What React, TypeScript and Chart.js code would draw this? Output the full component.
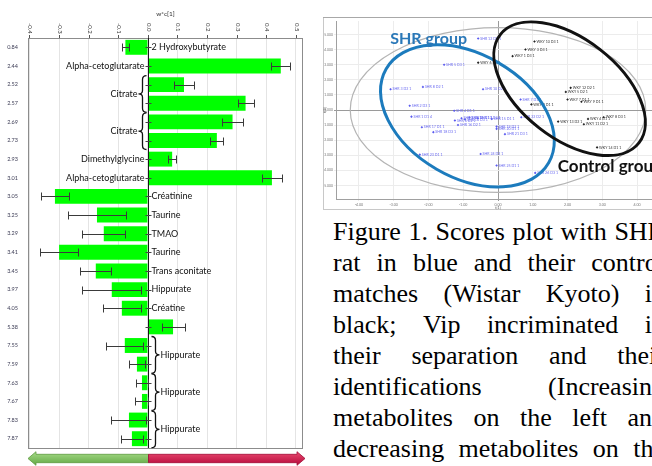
import React, { useEffect, useRef } from 'react';
import { Chart, registerables } from 'chart.js';

Chart.register(...registerables);

// ---------------- Left panel: loadings (w*c[1]) bar chart ----------------
const shifts = ['0.84', '2.44', '2.52', '2.57', '2.69', '2.73', '2.93', '3.01', '3.05', '3.25', '3.29', '3.41', '3.45', '3.97', '4.05', '5.38', '7.55', '7.59', '7.63', '7.67', '7.83', '7.87'];
const weights = [-0.076, 0.449, 0.122, 0.33, 0.286, 0.233, 0.082, 0.419, -0.314, -0.172, -0.149, -0.3, -0.176, -0.122, -0.088, 0.085, -0.078, -0.037, -0.02, -0.02, -0.064, -0.054];
const errors = [0.013, 0.032, 0.034, 0.027, 0.036, 0.022, 0.014, 0.033, 0.047, 0.098, 0.072, 0.064, 0.053, 0.1, 0.064, 0.039, 0.062, 0.027, 0.019, 0.022, 0.059, 0.038];
const metabolites = ['2 Hydroxybutyrate', 'Alpha-cetoglutarate', '', '', '', '', 'Dimethylglycine', 'Alpha-cetoglutarate', 'Créatinine', 'Taurine', 'TMAO', 'Taurine', 'Trans aconitate', 'Hippurate', 'Créatine', '', '', '', '', '', '', ''];
const groupNames = ['Citrate', 'Citrate', 'Hippurate', 'Hippurate', 'Hippurate'];
const groupFirstRow = [2, 4, 16, 18, 20];
const xTicks = [-0.4, -0.3, -0.2, -0.1, 0, 0.1, 0.2, 0.3, 0.4, 0.5];
const xTickLabels = ['-0.4', '-0.3', '-0.2', '-0.1', '0.0', '0.1', '0.2', '0.3', '0.4', '0.5'];
const xAxisTitle = 'w*c[1]';

// ---------------- Right panel: scores plot ----------------
const shrX = [-0.57, -1.55, -3.09, -2.16, -0.43, -2.54, 0.65, -1.26, -2.49, -1.24, -1.05, -0.82, -0.58, -0.95, -0.18, -1.15, -2.19, -1.86, -0.04, -0.04, 0.2, 0.67, -2.25, -0.5, -0.04, 1.07];
const shrY = [4.74, 3.0, 1.38, 1.53, 1.38, 0.28, 0.7, -0.05, -0.44, -0.7, -0.55, -0.5, -0.55, -0.62, -0.59, -0.99, -1.14, -1.47, -1.1, -1.25, -1.6, -0.48, -2.96, -2.92, -3.68, -4.17];
const shrNames = ['SHR 12 D3 1', 'SHR 5 D3 1', 'SHR 3 D2 1', 'SHR 8 D2 1', 'SHR 10 D2 1', 'SHR 2 D3 1', 'SHR 7 D1 1', 'SHR 4 D1 1', 'SHR 1 D1 4', 'SHR 6 D2 1', 'SHR 9 D1 1', 'SHR 11 D1 1', 'SHR 13 D2 1', 'SHR 14 D3 1', 'SHR 15 D1 1', 'SHR 16 D2 1', 'SHR 17 D1 1', 'SHR 18 D3 1', 'SHR 19 D2 1', 'SHR 20 D1 1', 'SHR 21 D3 1', 'SHR 22 D2 1', 'SHR 23 D1 1', 'SHR 24 D2 1', 'SHR 25 D1 1', 'SHR 26 D3 1'];
const ctlX = [1.05, 0.79, 0.42, -0.57, 2.09, 1.95, 2.0, 2.4, 0.96, 1.73, 2.59, 3.04, 2.47, 2.85];
const ctlY = [4.54, 4.01, 3.57, 3.14, 1.47, 1.2, 0.7, 0.55, 0.37, -0.77, -0.59, -0.48, -0.94, -2.48];
const ctlNames = ['WKY 10 D3 1', 'WKY 3 D3 1', 'WKY 1 D3 1', 'WKY 6 D2 1', 'WKY 12 D2 1', 'WKY 5 D2 1', 'WKY 7 D1 1', 'WKY 9 D1 1', 'WKY 2 D1 1', 'WKY 13 D2 1', 'WKY 4 D1 1', 'WKY 8 D3 1', 'WKY 11 D2 1', 'WKY 14 D1 1'];
const scoreXTicks = [-4, -3, -2, -1, 0, 1, 2, 3, 4];
const scoreXTickLabels = ['-4.00', '-3.00', '-2.00', '-1.00', '0.00', '1.00', '2.00', '3.00', '4.00'];
const scoreYTicks = [-5, -4, -3, -2, -1, 0, 1, 2, 3, 4, 5];
const scoreYTickLabels = ['-5.000', '-4.000', '-3.000', '-2.000', '-1.000', '0.000', '1.000', '2.000', '3.000', '4.000', '5.000'];
// ellipses: centre (data), semi-axes (a in x-units, b in y-units), rotation in degrees
const ellipseNames = ['all', 'SHR', 'Control'];
const ellipseCx = [0, -0.88, 2.06];
const ellipseCy = [0, -0.39, 1.41];
const ellipseA = [4.25, 2.7, 2.53];
const ellipseB = [5.46, 4.08, 3.29];
const ellipseRot = [0, 30, 38];
const groupTitles = ['SHR group', 'Control group'];
const groupTitleX = [-3.1, 1.72];
const groupTitleY = [4.72, -3.75];

const captionLines = [
  'Figure 1. Scores plot with SHR',
  'rat in blue and their control',
  'matches (Wistar Kyoto) in',
  'black; Vip incriminated in',
  'their separation and their',
  'identifications (Increasing',
  'metabolites on the left and',
  'decreasing metabolites on the',
];

const SANS = 'Lato, "Open Sans", sans-serif';

function drawBrace(ctx: CanvasRenderingContext2D, xArm: number, xTip: number, yTop: number, yBot: number) {
  const ym = (yTop + yBot) / 2;
  const xm = (xArm + xTip) / 2;
  ctx.beginPath();
  ctx.moveTo(xArm, yTop);
  ctx.quadraticCurveTo(xm, yTop, xm, yTop + 4);
  ctx.lineTo(xm, ym - 3.5);
  ctx.quadraticCurveTo(xm, ym, xTip, ym);
  ctx.quadraticCurveTo(xm, ym, xm, ym + 3.5);
  ctx.lineTo(xm, yBot - 4);
  ctx.quadraticCurveTo(xm, yBot, xArm, yBot);
  ctx.stroke();
}

function drawArrow(ctx: CanvasRenderingContext2D, xTail: number, xTip: number, yc: number, top: string, bottom: string, edge: string) {
  const dir = xTip > xTail ? 1 : -1;
  const bodyH = 4.2;
  const headH = 6.8;
  const headL = 8;
  const xBase = xTip - dir * headL;
  const g = ctx.createLinearGradient(0, yc - headH, 0, yc + headH);
  g.addColorStop(0, top);
  g.addColorStop(1, bottom);
  ctx.beginPath();
  ctx.moveTo(xTail, yc - bodyH);
  ctx.lineTo(xBase, yc - bodyH);
  ctx.lineTo(xBase, yc - headH);
  ctx.lineTo(xTip, yc);
  ctx.lineTo(xBase, yc + headH);
  ctx.lineTo(xBase, yc + bodyH);
  ctx.lineTo(xTail, yc + bodyH);
  ctx.closePath();
  ctx.fillStyle = g;
  ctx.fill();
  ctx.strokeStyle = edge;
  ctx.lineWidth = 0.8;
  ctx.stroke();
}

const leftDecor = {
  id: 'leftDecor',
  afterDatasetsDraw(chart: any) {
    const { ctx, chartArea: a, scales } = chart;
    const xs = scales.x;
    const ys = scales.y;
    const x0 = Math.round(xs.getPixelForValue(0)) + 0.5;
    ctx.save();

    // plot frame
    ctx.strokeStyle = '#8c8c8c';
    ctx.lineWidth = 1;
    ctx.strokeRect(Math.round(a.left) + 0.5, Math.round(a.top) + 0.5, Math.round(a.width) - 1, Math.round(a.height));

    // zero axis
    ctx.strokeStyle = '#1a1a1a';
    ctx.beginPath();
    ctx.moveTo(x0, a.top);
    ctx.lineTo(x0, a.bottom);
    ctx.stroke();

    // category ticks on the zero axis
    ctx.strokeStyle = '#444';
    shifts.forEach((_, i) => {
      const py = Math.round(ys.getPixelForValue(i)) + 0.5;
      ctx.beginPath();
      ctx.moveTo(x0 - 3, py);
      ctx.lineTo(x0 + 3, py);
      ctx.stroke();
    });

    // error bars
    ctx.strokeStyle = '#3a3a3a';
    ctx.lineWidth = 1;
    weights.forEach((v, i) => {
      const py = Math.round(ys.getPixelForValue(i)) + 0.5;
      const xa = Math.round(xs.getPixelForValue(v - errors[i])) + 0.5;
      const xb = Math.round(xs.getPixelForValue(v + errors[i])) + 0.5;
      ctx.beginPath();
      ctx.moveTo(xa, py);
      ctx.lineTo(xb, py);
      ctx.moveTo(xa, py - 4);
      ctx.lineTo(xa, py + 4);
      ctx.moveTo(xb, py - 4);
      ctx.lineTo(xb, py + 4);
      ctx.stroke();
    });

    // metabolite labels
    ctx.fillStyle = '#111';
    ctx.font = `9px ${SANS}`;
    ctx.textBaseline = 'middle';
    metabolites.forEach((name, i) => {
      if (!name) return;
      const py = ys.getPixelForValue(i);
      if (weights[i] >= 0) {
        ctx.textAlign = 'right';
        ctx.fillText(name, x0 - 4, py);
      } else {
        ctx.textAlign = 'left';
        ctx.fillText(name, x0 + 3, py);
      }
    });

    // grouped labels with braces
    ctx.strokeStyle = '#111';
    ctx.lineWidth = 1.3;
    groupNames.forEach((name, g) => {
      const r = groupFirstRow[g];
      const yTop = ys.getPixelForValue(r) - 9;
      const yBot = ys.getPixelForValue(r + 1) + 9;
      const ym = (yTop + yBot) / 2;
      if (weights[r] >= 0) {
        drawBrace(ctx, x0 - 2, x0 - 10, yTop, yBot);
        ctx.textAlign = 'right';
        ctx.fillText(name, x0 - 11, ym);
      } else {
        drawBrace(ctx, x0 + 3, x0 + 11, yTop, yBot);
        ctx.textAlign = 'left';
        ctx.fillText(name, x0 + 12, ym);
      }
    });

    // top axis: title, rotated tick labels, tick marks
    ctx.fillStyle = '#333';
    ctx.font = `6.5px ${SANS}`;
    ctx.textAlign = 'center';
    ctx.fillText(xAxisTitle, (a.left + a.right) / 2, 14);
    ctx.font = `6px ${SANS}`;
    ctx.strokeStyle = '#555';
    ctx.lineWidth = 1;
    xTicks.forEach((v, i) => {
      const px = Math.round(xs.getPixelForValue(v)) + 0.5;
      ctx.save();
      ctx.translate(px, 23);
      ctx.rotate(Math.PI / 2);
      ctx.textAlign = 'left';
      ctx.textBaseline = 'middle';
      ctx.fillText(xTickLabels[i], 0, 0);
      ctx.restore();
      ctx.beginPath();
      ctx.moveTo(px, a.top - 3);
      ctx.lineTo(px, a.top);
      ctx.stroke();
    });

    // direction arrows under the plot
    const yArrow = a.bottom + 10.5;
    drawArrow(ctx, x0, a.left, yArrow, '#a6db88', '#62a844', '#5d9a40');
    drawArrow(ctx, x0, a.right + 2, yArrow, '#ea4a70', '#b5083a', '#a10a35');

    ctx.restore();
  },
};

const scoreDecor = {
  id: 'scoreDecor',
  afterDatasetsDraw(chart: any) {
    const { ctx, chartArea: a, scales, width, height } = chart;
    const xs = scales.x;
    const ys = scales.y;
    const uX = xs.getPixelForValue(1) - xs.getPixelForValue(0);
    const uY = ys.getPixelForValue(0) - ys.getPixelForValue(1);
    ctx.save();

    // panel frame
    ctx.strokeStyle = '#c8c8c8';
    ctx.lineWidth = 1;
    ctx.strokeRect(0.5, 0.5, width + 10, height - 1);
    ctx.strokeStyle = '#a8a8a8';
    ctx.beginPath();
    ctx.moveTo(0, 0.5);
    ctx.lineTo(width, 0.5);
    ctx.stroke();

    // point labels
    ctx.font = `3.6px ${SANS}`;
    ctx.textBaseline = 'middle';
    ctx.textAlign = 'left';
    ctx.fillStyle = '#6a6af0';
    shrX.forEach((v, i) => {
      ctx.fillText(shrNames[i], xs.getPixelForValue(v) + 2, ys.getPixelForValue(shrY[i]));
    });
    ctx.fillStyle = '#333';
    ctlX.forEach((v, i) => {
      ctx.fillText(ctlNames[i], xs.getPixelForValue(v) + 2, ys.getPixelForValue(ctlY[i]));
    });

    // axis titles
    ctx.fillStyle = '#555';
    ctx.font = `3.6px ${SANS}`;
    ctx.textAlign = 'center';
    ctx.fillText('t[1]', xs.getPixelForValue(0), a.bottom + 9);
    ctx.save();
    ctx.translate(2, ys.getPixelForValue(0));
    ctx.rotate(-Math.PI / 2);
    ctx.fillText('t[2]', 0, 0);
    ctx.restore();

    // ellipses
    const colours = ['#b4b4b4', '#1c7bbd', '#111'];
    const widths = [1.2, 3, 3];
    ellipseNames.forEach((_, k) => {
      ctx.beginPath();
      ctx.ellipse(
        xs.getPixelForValue(ellipseCx[k]),
        ys.getPixelForValue(ellipseCy[k]),
        ellipseA[k] * uX,
        ellipseB[k] * uY,
        (ellipseRot[k] * Math.PI) / 180,
        0,
        Math.PI * 2,
      );
      ctx.strokeStyle = colours[k];
      ctx.lineWidth = widths[k];
      ctx.stroke();
    });

    // group titles
    ctx.textAlign = 'left';
    ctx.textBaseline = 'middle';
    ctx.font = `bold 16px ${SANS}`;
    ctx.fillStyle = '#2a78b8';
    ctx.fillText(groupTitles[0], xs.getPixelForValue(groupTitleX[0]), ys.getPixelForValue(groupTitleY[0]));
    ctx.font = `bold 17px ${SANS}`;
    ctx.fillStyle = '#111';
    ctx.fillText(groupTitles[1], xs.getPixelForValue(groupTitleX[1]), ys.getPixelForValue(groupTitleY[1]));

    ctx.restore();
  },
};

export default function App() {
  const leftRef = useRef<HTMLCanvasElement>(null);
  const rightRef = useRef<HTMLCanvasElement>(null);

  useEffect(() => {
    const left = new Chart(leftRef.current as HTMLCanvasElement, {
      type: 'bar',
      data: {
        labels: shifts,
        datasets: [
          {
            data: weights,
            backgroundColor: '#00ff00',
            borderWidth: 0,
            barPercentage: 0.8,
            categoryPercentage: 1,
          },
        ],
      },
      options: {
        indexAxis: 'y',
        responsive: false,
        animation: false,
        devicePixelRatio: 1,
        layout: { padding: { left: 0, right: 17, top: 0, bottom: 18 } },
        plugins: { legend: { display: false }, tooltip: { enabled: false } },
        scales: {
          x: {
            type: 'linear',
            position: 'top',
            min: -0.405,
            max: 0.524,
            afterBuildTicks: (s: any) => {
              s.ticks = xTicks.map((v) => ({ value: v }));
            },
            afterFit: (s: any) => {
              s.height = 38;
            },
            ticks: { display: false },
            grid: { color: '#e4e4e4', drawTicks: false },
            border: { display: false },
          },
          y: {
            type: 'category',
            position: 'left',
            afterFit: (s: any) => {
              s.width = 28;
            },
            ticks: { font: { family: SANS, size: 5.5 }, color: '#3c3c55', padding: 10, autoSkip: false },
            grid: { display: false, drawTicks: false },
            border: { display: false },
          },
        },
      } as any,
      plugins: [leftDecor],
    });

    const right = new Chart(rightRef.current as HTMLCanvasElement, {
      type: 'scatter',
      data: {
        datasets: [
          {
            data: shrX.map((v, i) => ({ x: v, y: shrY[i] })),
            backgroundColor: '#5a5af0',
            borderWidth: 0,
            pointStyle: 'rectRot',
            pointRadius: 1.3,
          },
          {
            data: ctlX.map((v, i) => ({ x: v, y: ctlY[i] })),
            backgroundColor: '#222',
            borderWidth: 0,
            pointStyle: 'rectRot',
            pointRadius: 1.3,
          },
        ],
      },
      options: {
        responsive: false,
        animation: false,
        devicePixelRatio: 1,
        layout: { padding: { left: 0, right: 0, top: 3, bottom: 0 } },
        plugins: { legend: { display: false }, tooltip: { enabled: false } },
        scales: {
          x: {
            type: 'linear',
            position: 'bottom',
            min: -4.66,
            max: 4.66,
            afterBuildTicks: (s: any) => {
              s.ticks = scoreXTicks.map((v) => ({ value: v }));
            },
            afterFit: (s: any) => {
              s.height = 11;
            },
            ticks: {
              font: { family: SANS, size: 3.6 },
              color: '#777',
              padding: 2,
              maxRotation: 0,
              callback: (_v: any, i: number) => scoreXTickLabels[i],
            },
            grid: {
              color: (c: any) => (c.tick && c.tick.value === 0 ? '#9a9a9a' : '#ececec'),
              tickLength: 2,
            },
            border: { color: '#a0a0a0' },
          },
          y: {
            type: 'linear',
            min: -5.9,
            max: 5.9,
            afterBuildTicks: (s: any) => {
              s.ticks = scoreYTicks.map((v) => ({ value: v }));
            },
            afterFit: (s: any) => {
              s.width = 13;
            },
            ticks: {
              font: { family: SANS, size: 3.4 },
              color: '#777',
              padding: 1,
              callback: (_v: any, i: number) => scoreYTickLabels[i],
            },
            grid: {
              color: (c: any) => (c.tick && c.tick.value === 0 ? '#9a9a9a' : '#ececec'),
              tickLength: 2,
            },
            border: { color: '#a0a0a0' },
          },
        },
      } as any,
      plugins: [scoreDecor],
    });

    return () => {
      left.destroy();
      right.destroy();
    };
  }, []);

  return (
    <div
      style={{
        position: 'fixed',
        left: 0,
        top: 0,
        width: 652,
        height: 466,
        overflow: 'hidden',
        background: '#fff',
      }}
    >
      <canvas ref={leftRef} width={320} height={466} style={{ position: 'absolute', left: 0, top: 0 }} />
      <canvas ref={rightRef} width={341} height={193} style={{ position: 'absolute', left: 323, top: 17 }} />
      <div
        style={{
          position: 'absolute',
          left: 333,
          top: 216,
          fontFamily: '"Liberation Serif", "Times New Roman", serif',
          fontSize: 26,
          lineHeight: '31px',
          color: '#000',
        }}
      >
        {captionLines.map((line, i) => (
          <div key={i} style={{ width: 332, display: 'flex', justifyContent: 'space-between', whiteSpace: 'pre' }}>
            {line.split(' ').map((w, j) => (
              <span key={j}>{w}</span>
            ))}
          </div>
        ))}
      </div>
    </div>
  );
}
